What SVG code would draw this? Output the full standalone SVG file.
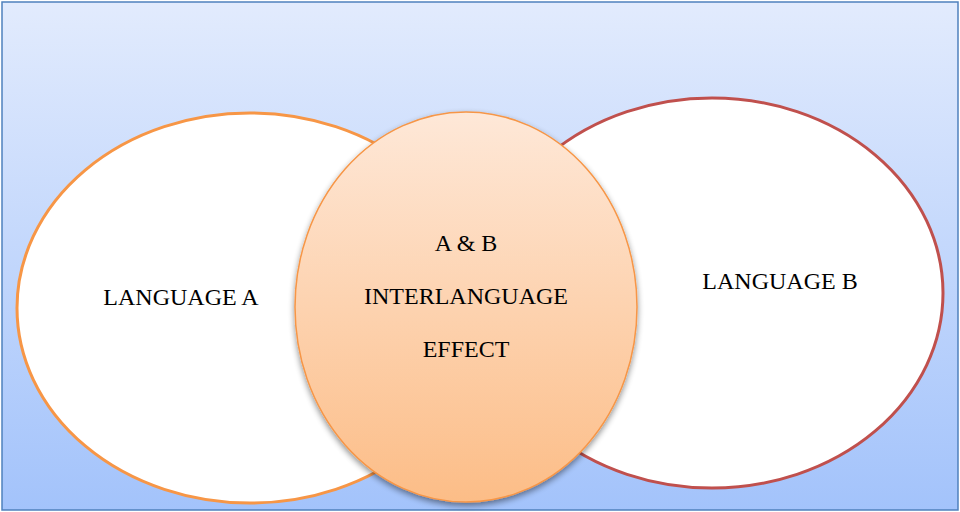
<svg xmlns="http://www.w3.org/2000/svg" width="960" height="512" viewBox="0 0 960 512">
<defs>
<linearGradient id="bg" x1="0" y1="0" x2="0" y2="1">
<stop offset="0" stop-color="#e2ebfd"/>
<stop offset="1" stop-color="#a3c3fb"/>
</linearGradient>
<linearGradient id="mid" x1="0" y1="0" x2="0" y2="1">
<stop offset="0" stop-color="#fee8d8"/>
<stop offset="1" stop-color="#fcbd87"/>
</linearGradient>
<filter id="sh" x="-20%" y="-20%" width="140%" height="140%">
<feGaussianBlur in="SourceAlpha" stdDeviation="3"/>
<feOffset dx="0" dy="3" result="b"/>
<feComponentTransfer><feFuncA type="linear" slope="0.45"/></feComponentTransfer>
<feMerge><feMergeNode/><feMergeNode in="SourceGraphic"/></feMerge>
</filter>
<style>
.t{font-family:"Liberation Serif","Times New Roman",serif;font-size:24px;fill:#000;text-anchor:middle}
</style>
</defs>
<rect x="2" y="2" width="956" height="508" fill="url(#bg)" stroke="#4f81bd" stroke-width="1.5"/>
<g id="languageA">
<ellipse cx="250" cy="308" rx="233" ry="195" fill="#fff" stroke="#f79646" stroke-width="3"/>
<text class="t" x="181" y="305">LANGUAGE A</text>
</g>
<g id="languageB">
<ellipse cx="712" cy="293" rx="231" ry="195" fill="#fff" stroke="#c0504d" stroke-width="3"/>
<text class="t" x="780" y="289">LANGUAGE B</text>
</g>
<g id="interlanguage">
<ellipse cx="466" cy="307" rx="171" ry="195" fill="url(#mid)" stroke="#f79646" stroke-width="1.5" filter="url(#sh)"/>
<text class="t" x="466" y="251">A &amp; B</text>
<text class="t" x="466" y="304">INTERLANGUAGE</text>
<text class="t" x="466" y="357">EFFECT</text>
</g>
<g id="connectors"/>
</svg>
